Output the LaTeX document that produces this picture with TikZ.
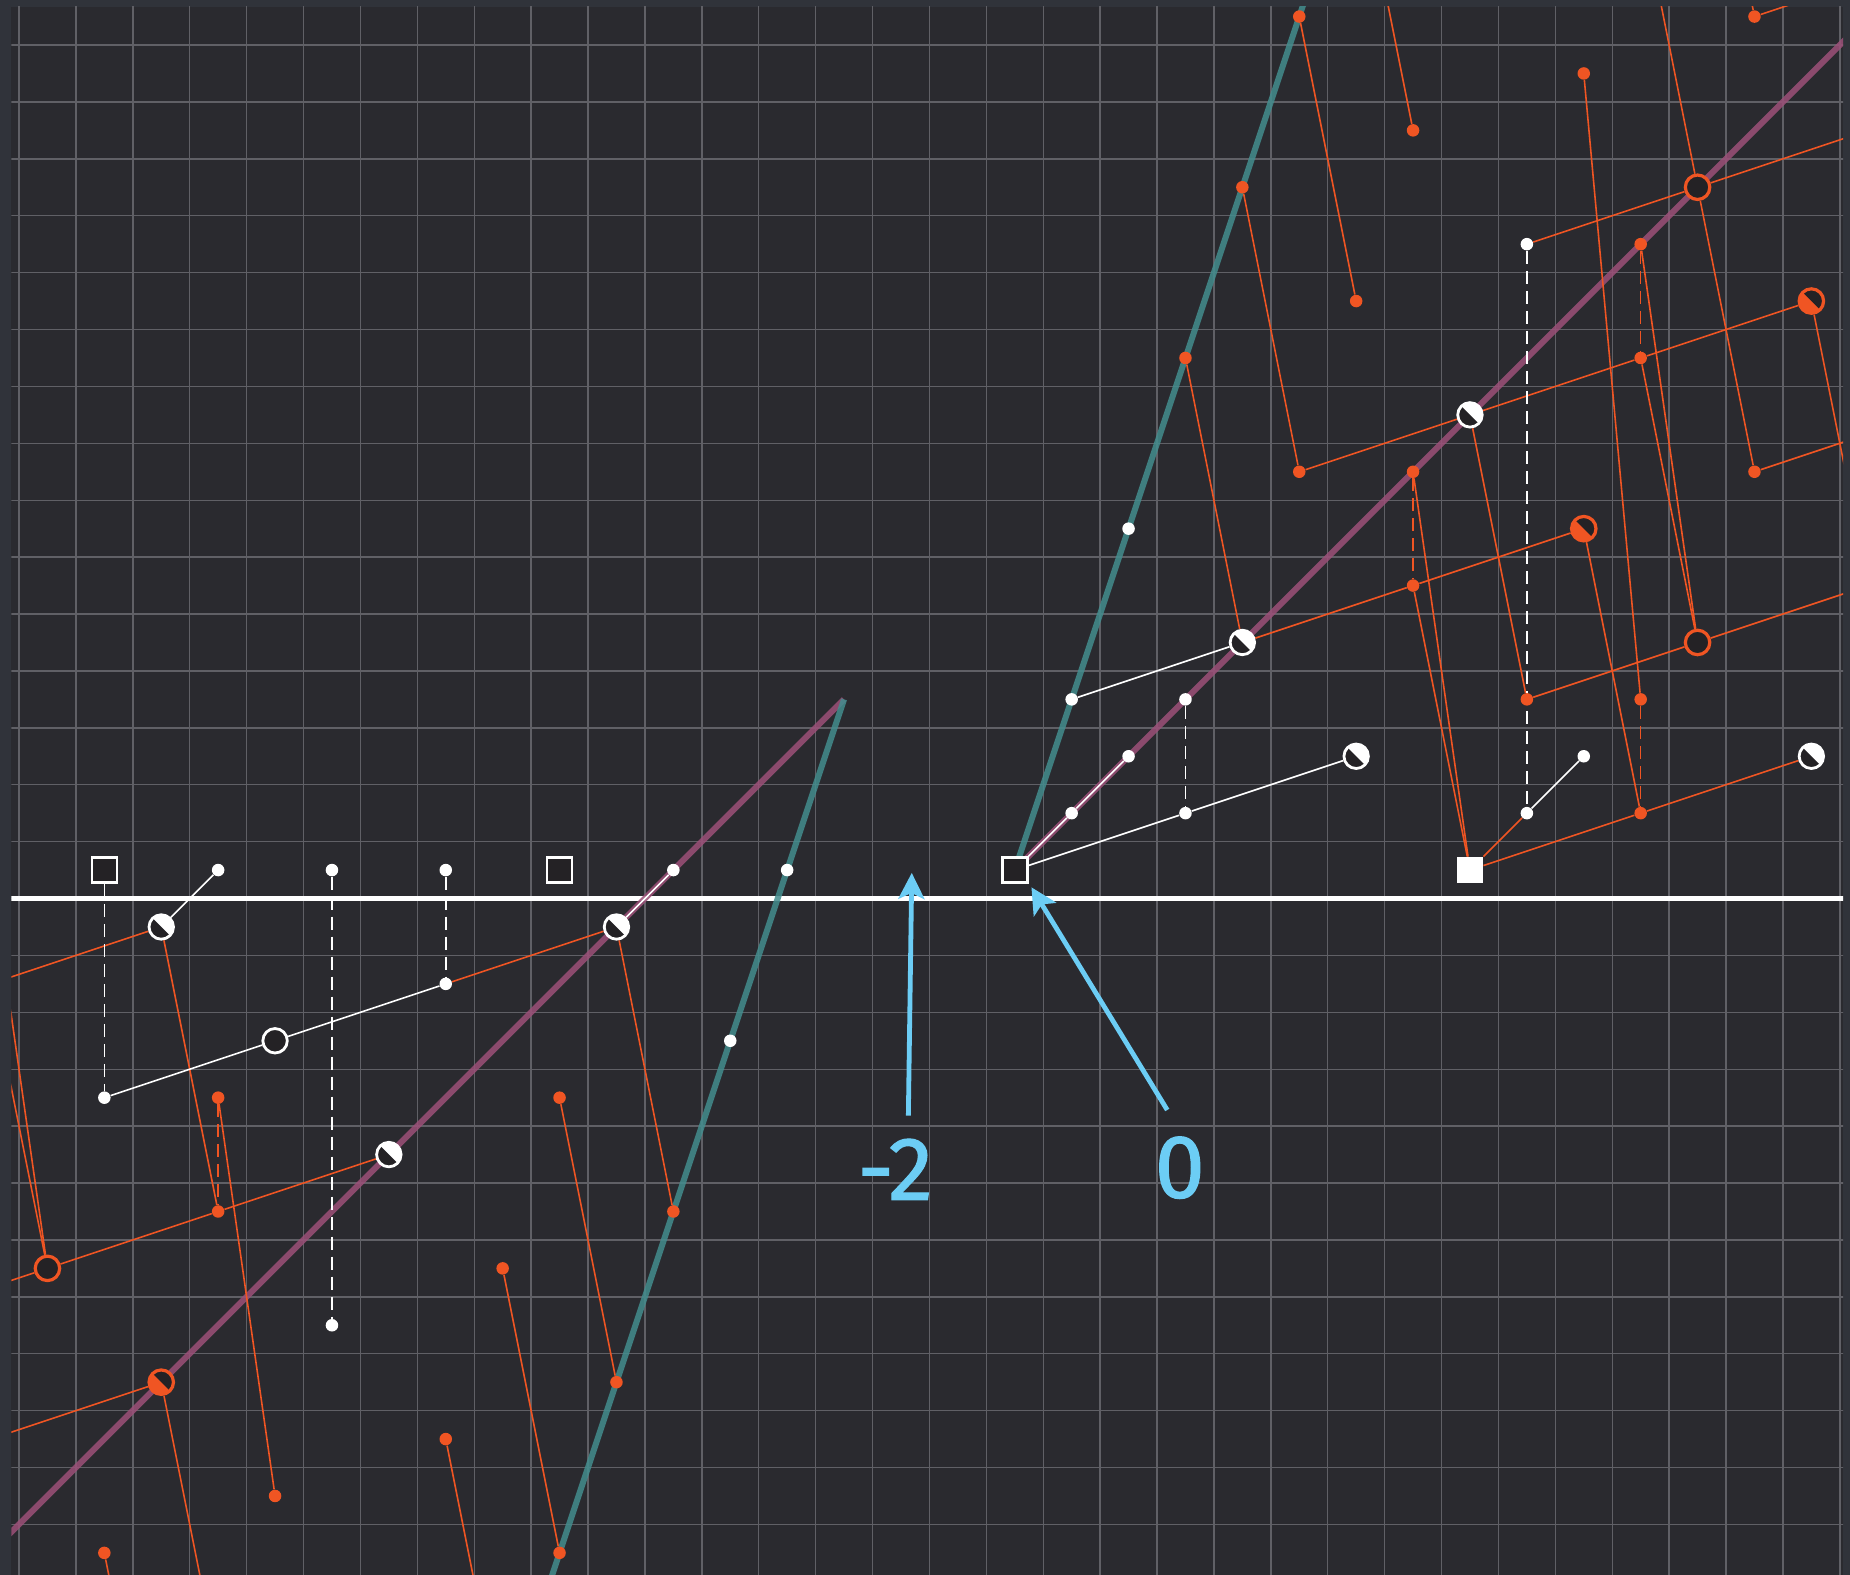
\documentclass[tikz,border=0pt]{standalone}
\usepackage{fontspec}
\newfontfamily\lblfont[FakeBold=1.2]{Fira Sans}
\usetikzlibrary{arrows.meta}

\definecolor{board}{RGB}{42,42,47}
\definecolor{frame}{RGB}{48,51,58}
\definecolor{gridc}{RGB}{96,96,102}
\definecolor{orng}{RGB}{240,85,35}
\definecolor{purp}{RGB}{156,80,121}
\definecolor{tealc}{RGB}{67,141,142}
\definecolor{ink}{RGB}{36,34,37}
\definecolor{sky}{RGB}{108,205,245}

\pgfdeclarelayer{boardlayer}
\pgfdeclarelayer{wires}
\pgfsetlayers{boardlayer,wires,main}

\begin{document}
\begin{tikzpicture}[
    wdot/.style={circle, fill=white, inner sep=0pt, minimum size=0.22cm},
    odot/.style={circle, fill=orng, inner sep=0pt, minimum size=0.22cm},
    wsq/.style={draw=white, fill=ink, line width=1.3pt, inner sep=0pt, minimum size=0.44cm},
    wsqf/.style={fill=white, inner sep=0pt, minimum size=0.46cm},
    wring/.style={circle, draw=white, fill=ink, line width=1.4pt, inner sep=0pt, minimum size=0.43cm},
    oring/.style={circle, draw=orng, fill=ink, line width=1.6pt, inner sep=0pt, minimum size=0.43cm},
    whalf/.style={circle, draw=white, fill=white, line width=1.4pt, inner sep=0pt, minimum size=0.43cm,
        path picture={\fill[ink] (path picture bounding box.north west) -- (path picture bounding box.south east)
            -- (path picture bounding box.south west) -- cycle;}},
    ohalf/.style={circle, draw=orng, fill=orng, line width=1.6pt, inner sep=0pt, minimum size=0.43cm,
        path picture={\fill[ink] (path picture bounding box.north west) -- (path picture bounding box.north east)
            -- (path picture bounding box.south east) -- cycle;}},
    wline/.style={white, line width=0.8pt},
    oline/.style={orng, line width=0.8pt},
    wdash/.style={white, line width=0.8pt, dash pattern=on 6.5pt off 3.5pt},
    odash/.style={orng, line width=0.8pt, dash pattern=on 6.5pt off 3.5pt},
    purpline/.style={purp, opacity=0.85, line width=3pt},
    tealline/.style={tealc, opacity=0.85, line width=3pt},
    axisline/.style={white, line width=2.3pt},
    gridline/.style={gridc, line width=0.7pt},
    ptr/.style={sky, line width=2.4pt, -{Stealth[length=13pt, width=13pt, inset=3pt]}},
    lbl/.style={text=sky, font=\lblfont\fontsize{45}{45}\selectfont, inner sep=0pt},
]

    \useasboundingbox (-0.834,-26.389) rectangle (31.679,1.291);

    % chalkboard
    \begin{pgfonlayer}{boardlayer}
        \fill[frame] (-0.834,-26.389) rectangle (31.679,1.291);
        \fill[board] (-0.632,-26.389) rectangle (31.556,1.173);
        \clip (-0.632,-26.389) rectangle (31.556,1.173);
        \draw[gridline, shift={(0.5,0.5)}] (-2,-28) grid (32,1);
    \end{pgfonlayer}

    % squares
    \node[wsq] (sq1) at (1,-14) {};
    \node[wsq] (sq9) at (9,-14) {};
    \node[wsq] (sq17) at (17,-14) {};
    \node[wsqf] (sq25) at (25,-14) {};

    % white dots
    \node[wdot] (w3r14) at (3,-14) {};
    \node[wdot] (w5r14) at (5,-14) {};
    \node[wdot] (w7r14) at (7,-14) {};
    \node[wdot] (w11r14) at (11,-14) {};
    \node[wdot] (w13r14) at (13,-14) {};
    \node[wdot] (w1r18) at (1,-18) {};
    \node[wdot] (w7r16) at (7,-16) {};
    \node[wdot] (w5r22) at (5,-22) {};
    \node[wdot] (w12r17) at (12,-17) {};
    \node[wdot] (w18r11) at (18,-11) {};
    \node[wdot] (w19r8) at (19,-8) {};
    \node[wdot] (w18r13) at (18,-13) {};
    \node[wdot] (w19r12) at (19,-12) {};
    \node[wdot] (w20r11) at (20,-11) {};
    \node[wdot] (w20r13) at (20,-13) {};
    \node[wdot] (w26r3) at (26,-3) {};
    \node[wdot] (w26r13) at (26,-13) {};
    \node[wdot] (w27r12) at (27,-12) {};

    % white rings and halves
    \node[wring] (c4r17) at (4,-17) {};
    \node[whalf] (h2r15) at (2,-15) {};
    \node[whalf] (h10r15) at (10,-15) {};
    \node[whalf] (h6r19) at (6,-19) {};
    \node[whalf] (h21r10) at (21,-10) {};
    \node[whalf] (h25r6) at (25,-6) {};
    \node[whalf] (h23r12) at (23,-12) {};
    \node[whalf] (h31r12) at (31,-12) {};

    % orange dots
    \node[odot] (o3r18) at (3,-18) {};
    \node[odot] (o3r20) at (3,-20) {};
    \node[odot] (o9r18) at (9,-18) {};
    \node[odot] (o8r21) at (8,-21) {};
    \node[odot] (o7r24) at (7,-24) {};
    \node[odot] (o4r25) at (4,-25) {};
    \node[odot] (o1r26) at (1,-26) {};
    \node[odot] (o11r20) at (11,-20) {};
    \node[odot] (o10r23) at (10,-23) {};
    \node[odot] (o9r26) at (9,-26) {};
    \node[odot] (o20r5) at (20,-5) {};
    \node[odot] (o21r2) at (21,-2) {};
    \node[odot] (o22u1) at (22,1) {};
    \node[odot] (o23r4) at (23,-4) {};
    \node[odot] (o24r1) at (24,-1) {};
    \node[odot] (o22r7) at (22,-7) {};
    \node[odot] (o24r7) at (24,-7) {};
    \node[odot] (o24r9) at (24,-9) {};
    \node[odot] (o27r0) at (27,0) {};
    \node[odot] (o28r3) at (28,-3) {};
    \node[odot] (o28r5) at (28,-5) {};
    \node[odot] (o28r11) at (28,-11) {};
    \node[odot] (o28r13) at (28,-13) {};
    \node[odot] (o26r11) at (26,-11) {};
    \node[odot] (o30r7) at (30,-7) {};
    \node[odot] (o30u1) at (30,1) {};

    % orange rings and halves
    \node[oring] (c0r21) at (0,-21) {};
    \node[oring] (c29r2) at (29,-2) {};
    \node[oring] (c29r10) at (29,-10) {};
    \node[ohalf] (h2r23) at (2,-23) {};
    \node[ohalf] (h27r8) at (27,-8) {};
    \node[ohalf] (h31r4) at (31,-4) {};

    % ends outside the board
    \coordinate (apex) at (14,-11);
    \coordinate (purpbot) at (-2,-27);
    \coordinate (purptop) at (33,2);
    \coordinate (tealbot) at (8.5,-27.5);
    \coordinate (tealtop) at (22.5,2.5);
    \coordinate (axisL) at (-1,-14.5);
    \coordinate (axisR) at (32,-14.5);
    \coordinate (offA) at (-1,-16);
    \coordinate (offB) at (-1,-14);
    \coordinate (offC) at (-3,-22);
    \coordinate (offD) at (-1,-24);
    \coordinate (offE) at (3,-28);
    \coordinate (offF) at (2,-31);
    \coordinate (offG) at (8,-29);
    \coordinate (offH) at (23,4);
    \coordinate (offI) at (28,3);
    \coordinate (offJ) at (29,6);
    \coordinate (offK) at (32,-1);
    \coordinate (offL) at (32,-9);
    \coordinate (offM) at (33,-6);
    \coordinate (offN) at (33,2);

    \begin{pgfonlayer}{wires}
        \clip (-0.632,-26.389) rectangle (31.556,1.173);
        \draw[axisline] (axisL) -- (axisR);
        \draw[purpline] (purpbot) -- (apex);
        \draw[purpline] (sq17.center) -- (purptop);
        \draw[tealline] (tealbot) -- (apex);
        \draw[tealline] (sq17.center) -- (tealtop);

        % orange links
        \draw[oline] (offA) -- (h2r15);
        \draw[oline] (h2r15) -- (o3r20);
        \draw[oline] (o3r18) -- (o4r25);
        \draw[odash] (o3r18) -- (o3r20);
        \draw[oline] (offC) -- (c0r21) -- (o3r20) -- (h6r19);
        \draw[oline] (offA) -- (c0r21);
        \draw[oline] (offB) -- (c0r21);
        \draw[oline] (offD) -- (h2r23) -- (offE);
        \draw[oline] (o1r26) -- (offF);
        \draw[oline] (o7r24) -- (offG);
        \draw[oline] (o8r21) -- (o9r26);
        \draw[oline] (o9r18) -- (o10r23);
        \draw[oline] (w7r16) -- (h10r15) -- (o11r20);
        \draw[oline] (o22u1) -- (o23r4);
        \draw[oline] (offH) -- (o24r1);
        \draw[oline] (o21r2) -- (o22r7) -- (h25r6) -- (o28r5) -- (h31r4) -- (offL);
        \draw[oline] (o20r5) -- (h21r10) -- (o24r9) -- (h27r8) -- (o28r13);
        \draw[oline] (o24r7) -- (sq25);
        \draw[oline] (o24r9) -- (sq25);
        \draw[odash] (o24r7) -- (o24r9);
        \draw[oline] (h25r6) -- (o26r11) -- (c29r10) -- (offL);
        \draw[oline] (o27r0) -- (o28r11);
        \draw[odash] (o28r11) -- (o28r13);
        \draw[oline] (o28r3) -- (c29r10);
        \draw[oline] (o28r5) -- (c29r10);
        \draw[odash] (o28r3) -- (o28r5);
        \draw[oline] (w26r3) -- (c29r2) -- (offK);
        \draw[oline] (offI) -- (c29r2) -- (o30r7) -- (offM);
        \draw[oline] (offJ) -- (o30u1) -- (offN);
        \draw[oline] (sq25) -- (w26r13);
        \draw[oline] (sq25) -- (o28r13) -- (h31r12);

        % white links
        \draw[wline] (w3r14) -- (h2r15);
        \draw[wline] (w1r18) -- (c4r17) -- (w7r16);
        \draw[wdash] (sq1) -- (w1r18);
        \draw[wdash] (w5r14) -- (w5r22);
        \draw[wdash] (w7r14) -- (w7r16);
        \draw[wline] (h10r15) -- (w11r14);
        \draw[wline] (sq17) -- (w18r13) -- (w19r12);
        \draw[wline] (sq17) -- (w20r13) -- (h23r12);
        \draw[wline] (w18r11) -- (h21r10);
        \draw[wdash] (w20r11) -- (w20r13);
        \draw[wdash] (w26r3) -- (w26r13);
        \draw[wline] (w26r13) -- (w27r12);
    \end{pgfonlayer}

    % pointers
    \node[lbl] (lblm2) at (14.9,-19.26) {-2};
    \node[lbl] (lbl0) at (19.9,-19.23) {0};
    \coordinate (tipm2) at (15.19,-14.05);
    \draw[ptr] ([xshift=0.23cm, yshift=0.4cm]lblm2.north) -- (tipm2);
    \draw[ptr] ([xshift=-0.22cm, yshift=0.46cm]lbl0.north) -- ([xshift=0.05cm, yshift=-0.06cm]sq17.south east);
\end{tikzpicture}
\end{document}
